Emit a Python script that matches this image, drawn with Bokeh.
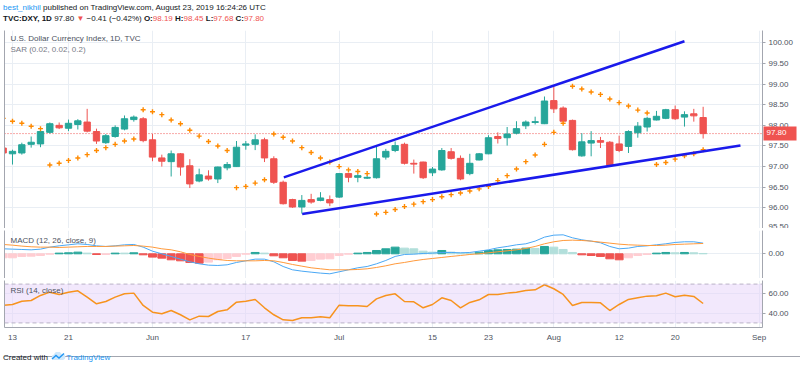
import numpy as np
from bokeh.plotting import figure
from bokeh.layouts import column
from bokeh.models import (Range1d, FixedTicker, NumeralTickFormatter, Span, BoxAnnotation,
                          Label, Div, ColumnDataSource, GlobalInlineStyleSheet, LinearAxis)
from bokeh.embed import file_html
from bokeh.resources import INLINE

FONT = "Liberation Sans"

# ---------------- data ----------------
bar_x = list(range(-1, 75))   # trading-day index, 0 = May 13 2019
opens = [97.45, 97.31, 97.33, 97.54, 97.55, 97.83, 98.00, 97.93, 98.02, 98.08,
         97.85, 97.58, 97.73, 97.91, 98.14, 98.16, 97.65, 97.21, 97.12, 97.31,
         97.02, 96.65, 96.77, 96.70, 96.97, 97.00, 97.52, 97.54, 97.65, 97.19,
         96.62, 96.20, 96.02, 96.20, 96.18, 96.20, 96.26, 96.83, 96.74, 96.72,
         96.73, 97.23, 97.39, 97.54, 97.08, 97.11, 96.85, 96.92, 97.36, 97.20,
         96.83, 97.16, 97.31, 97.73, 97.70, 97.81, 97.99, 98.07, 98.04, 98.60,
         98.42, 98.12, 97.26, 97.57, 97.63, 97.59, 97.55, 97.49, 97.82, 97.96,
         98.13, 98.17, 98.38, 98.20, 98.28, 98.19]
highs = [97.50, 97.41, 97.58, 97.73, 97.92, 98.07, 98.07, 98.14, 98.15, 98.40,
         97.92, 97.79, 98.00, 98.24, 98.24, 98.20, 97.79, 97.29, 97.39, 97.33,
         97.18, 96.95, 96.91, 97.00, 97.11, 97.62, 97.62, 97.78, 97.70, 97.25,
         96.66, 96.22, 96.31, 96.34, 96.38, 96.30, 96.84, 96.84, 96.82, 96.78,
         97.49, 97.43, 97.61, 97.58, 97.17, 97.12, 96.99, 97.45, 97.45, 97.27,
         97.31, 97.33, 97.76, 97.83, 97.96, 98.10, 98.12, 98.21, 98.70, 98.94,
         98.46, 98.14, 97.81, 97.86, 97.72, 97.62, 97.75, 97.88, 98.08, 98.21,
         98.35, 98.40, 98.48, 98.34, 98.40, 98.45]
lows = [97.28, 97.05, 97.29, 97.46, 97.47, 97.80, 97.91, 97.86, 97.90, 97.83,
        97.55, 97.55, 97.70, 97.88, 98.09, 97.59, 97.13, 97.00, 96.76, 96.78,
        96.48, 96.62, 96.66, 96.60, 96.91, 96.99, 97.41, 97.40, 97.11, 96.58,
        96.08, 96.00, 95.86, 96.10, 96.16, 96.04, 96.24, 96.62, 96.62, 96.70,
        96.71, 97.17, 97.35, 97.05, 96.83, 96.70, 96.77, 96.90, 97.17, 96.67,
        96.79, 97.15, 97.30, 97.56, 97.51, 97.78, 97.91, 98.02, 98.03, 98.30,
        98.07, 97.39, 97.24, 97.25, 97.45, 97.00, 97.35, 97.33, 97.70, 97.85,
        98.12, 98.15, 98.13, 97.97, 98.09, 97.68]
closes = [97.33, 97.37, 97.53, 97.59, 97.85, 98.04, 97.94, 98.05, 98.11, 97.86,
          97.62, 97.75, 97.95, 98.16, 98.20, 97.63, 97.23, 97.13, 97.31, 96.99,
          96.58, 96.80, 96.70, 96.99, 97.05, 97.47, 97.55, 97.65, 97.21, 96.62,
          96.10, 96.02, 96.18, 96.14, 96.24, 96.12, 96.83, 96.74, 96.78, 96.74,
          97.19, 97.37, 97.51, 97.08, 97.06, 96.73, 96.94, 97.39, 97.20, 96.70,
          97.08, 97.31, 97.70, 97.68, 97.79, 97.92, 98.08, 98.09, 98.59, 98.40,
          98.10, 97.41, 97.60, 97.63, 97.59, 97.03, 97.39, 97.85, 97.98, 98.17,
          98.22, 98.38, 98.16, 98.26, 98.23, 97.80]
sar = [98.17, 98.10, 98.05, 97.98, 97.92, 97.04, 97.08, 97.15, 97.21, 97.29,
       97.39, 97.46, 97.54, 97.62, 97.67, 98.38, 98.33, 98.26, 98.13, 98.04,
       97.88, 97.74, 97.61, 97.50, 97.39, 96.49, 96.52, 96.60, 96.68, 97.79,
       97.71, 97.62, 97.46, 97.34, 97.21, 97.11, 97.00, 96.92, 96.88, 96.83,
       95.85, 95.89, 95.96, 96.03, 96.09, 96.15, 96.20, 96.27, 96.32, 96.36,
       96.41, 96.46, 96.52, 96.66, 96.78, 96.94, 97.12, 97.28, 97.54, 97.83,
       98.05, 98.95, 98.88, 98.81, 98.75, 98.64, 98.55, 98.47, 98.37, 98.30,
       97.05, 97.10, 97.18, 97.26, 97.31, 97.41]
macd = [0.119, 0.111, 0.103, 0.095, 0.111, 0.159, 0.190, 0.214, 0.238, 0.222,
        0.190, 0.175, 0.190, 0.214, 0.222, 0.159, 0.063, 0.000, -0.063, -0.127,
        -0.190, -0.238, -0.270, -0.278, -0.262, -0.206, -0.167, -0.127, -0.127, -0.190,
        -0.302, -0.381, -0.413, -0.437, -0.460, -0.476, -0.429, -0.381, -0.333, -0.302,
        -0.238, -0.159, -0.063, -0.016, -0.008, 0.008, 0.016, 0.032, 0.032, 0.024,
        0.032, 0.063, 0.095, 0.143, 0.175, 0.214, 0.238, 0.302, 0.397, 0.444,
        0.452, 0.381, 0.333, 0.302, 0.262, 0.175, 0.119, 0.135, 0.175, 0.190,
        0.214, 0.238, 0.270, 0.286, 0.286, 0.254]
signal = [0.222, 0.206, 0.183, 0.167, 0.159, 0.159, 0.151, 0.159, 0.167, 0.175,
          0.175, 0.175, 0.183, 0.190, 0.198, 0.183, 0.159, 0.119, 0.095, 0.048,
          -0.016, -0.063, -0.103, -0.135, -0.159, -0.167, -0.167, -0.167, -0.159, -0.167,
          -0.206, -0.254, -0.294, -0.333, -0.357, -0.381, -0.381, -0.381, -0.373, -0.357,
          -0.325, -0.286, -0.238, -0.206, -0.167, -0.135, -0.111, -0.087, -0.063, -0.040,
          -0.016, 0.000, 0.024, 0.048, 0.071, 0.095, 0.127, 0.175, 0.238, 0.286,
          0.317, 0.325, 0.317, 0.302, 0.278, 0.254, 0.230, 0.214, 0.206, 0.198,
          0.198, 0.206, 0.222, 0.230, 0.238, 0.246]
hist = [-0.095, -0.095, -0.063, -0.056, -0.040, -0.008, 0.016, 0.024, 0.040, 0.016,
        -0.016, -0.016, 0.016, 0.016, 0.024, -0.024, -0.079, -0.103, -0.143, -0.167,
        -0.206, -0.222, -0.198, -0.143, -0.111, -0.063, -0.008, 0.032, 0.016, -0.048,
        -0.095, -0.159, -0.175, -0.159, -0.127, -0.119, -0.040, -0.008, 0.016, 0.032,
        0.079, 0.119, 0.159, 0.135, 0.119, 0.063, 0.040, 0.079, 0.040, 0.016,
        0.016, 0.040, 0.079, 0.095, 0.103, 0.111, 0.135, 0.127, 0.175, 0.159,
        0.103, 0.032, -0.024, -0.040, -0.063, -0.119, -0.143, -0.095, -0.040, -0.016,
        0.016, 0.032, 0.024, 0.032, 0.024, 0.008]
rsi = [48.0, 49.0, 52.4, 53.1, 58.3, 61.7, 59.3, 61.7, 63.1, 56.6,
       49.7, 52.1, 56.6, 60.0, 60.7, 48.0, 41.1, 39.4, 42.8, 38.4,
       33.2, 37.0, 36.6, 41.8, 43.5, 51.4, 52.4, 54.2, 45.6, 38.4,
       33.2, 32.5, 35.3, 35.3, 36.3, 35.3, 48.3, 47.6, 47.6, 46.9,
       54.8, 58.3, 60.0, 52.1, 51.8, 45.6, 49.0, 55.9, 53.1, 45.6,
       51.1, 53.8, 59.3, 59.3, 60.7, 61.7, 63.4, 64.1, 69.3, 65.2,
       59.3, 48.0, 51.1, 51.1, 50.7, 42.8, 49.0, 54.2, 55.9, 57.6,
       57.9, 60.7, 56.9, 58.6, 57.3, 50.0]

tick_pos = [0, 6, 15, 25, 35, 45, 51, 58, 65, 71, 80]
tick_labels = ["13", "21", "Jun", "17", "Jul", "15", "23", "Aug", "12", "20", "Sep"]
price_ticks = [95.5, 96.0, 96.5, 97.0, 97.5, 98.0, 98.5, 99.0, 99.5, 100.0]
upper_x, upper_y = [29.07, 72.0], [96.74, 100.04]
lower_x, lower_y = [31.04, 78.0], [95.85, 97.51]
last_price = 97.80

# ---------------- styles ----------------
GREEN, RED = "#26a69a", "#ef5350"
GRID, OUT, TXT = "#e9eef4", "#a3a6af", "#4c525e"
xr = Range1d(-0.857, 80.36)


def pane(height, y0, y1, yticks, bottom=0, xaxis=False):
    p = figure(frame_width=758, height=height, x_range=xr, y_range=Range1d(y0, y1),
               output_backend="svg", toolbar_location=None, y_axis_location="right",
               x_axis_location="below" if xaxis else None,
               min_border_left=4, min_border_right=38, min_border_top=0,
               min_border_bottom=bottom)
    p.outline_line_color = None
    p.grid.grid_line_color = GRID
    p.xgrid.ticker = FixedTicker(ticks=tick_pos)
    ax = p.right[0]
    ax.ticker = FixedTicker(ticks=yticks)
    ax.axis_line_color = OUT
    ax.major_tick_line_color = OUT
    ax.major_tick_out = 3
    ax.major_tick_in = 0
    ax.minor_tick_line_color = None
    ax.major_label_standoff = 3
    ax.major_label_text_font = FONT
    ax.major_label_text_font_size = "8px"
    ax.major_label_text_color = TXT
    ax.formatter = NumeralTickFormatter(format="0.00")
    p.ygrid.ticker = FixedTicker(ticks=yticks)
    # left border of the chart box: a bare axis line (no ticks, no labels)
    lb = LinearAxis(ticker=FixedTicker(ticks=[]), axis_line_color=OUT,
                    major_tick_line_color=None, minor_tick_line_color=None,
                    major_label_standoff=0)
    p.add_layout(lb, "left")
    return p


def title(p, text, ytop, color=TXT):
    p.add_layout(Label(x=6, y=p.height - p.min_border_bottom - ytop, x_units="screen",
                       y_units="screen", text=text, text_font=FONT, text_font_size="8px",
                       text_color=color, text_baseline="middle"))


def sep(h):
    return Div(width=800, height=h, margin=0, text=(
        f'<div style="margin-left:4px;width:796px;height:{h}px;background:{OUT}"></div>'))


# ---------------- main pane ----------------
src = ColumnDataSource(dict(
    x=bar_x, o=opens, h=highs, l=lows, c=closes,
    top=[max(a, b) for a, b in zip(opens, closes)],
    bot=[min(a, b) for a, b in zip(opens, closes)],
    col=[GREEN if c >= o else RED for o, c in zip(opens, closes)]))

p = pane(198, 95.499, 100.30, price_ticks)
p.add_layout(Span(location=last_price, dimension="width", line_color=RED,
                  line_dash="1 2", line_width=1, level="underlay"))
p.segment(x0="x", y0="l", x1="x", y1="h", color="col", line_width=1, source=src)
p.vbar(x="x", width=0.68, top="top", bottom="bot", fill_color="col", line_color="col",
       source=src)
p.scatter(bar_x, sar, marker="cross", size=5, line_width=1.4, color="#ff8a00")
p.line(upper_x, upper_y, line_color="#1a1aeb", line_width=2.5)
p.line(lower_x, lower_y, line_color="#1a1aeb", line_width=2.5)
title(p, "U.S. Dollar Currency Index, 1D, TVC", 7.5)
title(p, "SAR (0.02, 0.02, 0.2)", 19, "#787b86")
# last-price tag on the price scale (side panel, so it is not clipped to the frame)
p.add_layout(Label(x=763, y=last_price, x_units="canvas", y_units="data",
                   text=f"{last_price:.2f}", text_font=FONT, text_font_size="8px",
                   text_color="white", text_baseline="middle",
                   background_fill_color=RED, padding=(3, 10, 3, 6)), "right")

# ---------------- MACD pane ----------------
hcol = []
for i, v in enumerate(hist):
    prev = hist[i - 1] if i > 0 else v
    if v >= 0:
        hcol.append(GREEN if v > prev else "#b2dfdb")
    else:
        hcol.append(RED if v < prev else "#ffcdd2")

pm = pane(48, -0.588, 0.555, [0])
pm.vbar(x=bar_x, width=0.85, top=hist, bottom=0, fill_color=hcol, line_color=hcol)
pm.line(bar_x, macd, line_color="#4aa8f5", line_width=1)
pm.line(bar_x, signal, line_color="#ff9a3c", line_width=1)
title(pm, "MACD (12, 26, close, 9)", 10)

# ---------------- RSI pane ----------------
pr = pane(65, 25.3, 73.7, [40, 60], bottom=18, xaxis=True)
pr.add_layout(BoxAnnotation(bottom=30, top=70, fill_color="#e6d2fa", fill_alpha=0.5,
                            line_color=None, level="underlay"))
for lvl in (30, 70):
    pr.add_layout(Span(location=lvl, dimension="width", line_color="#b9b3c6",
                       line_dash="4 3", line_width=1))
pr.line(bar_x, rsi, line_color="#f7931e", line_width=1.5)
title(pr, "RSI (14, close)", 9.5)
xa = pr.below[0]
xa.ticker = FixedTicker(ticks=tick_pos)
xa.major_label_overrides = {t: s for t, s in zip(tick_pos, tick_labels)}
xa.axis_line_color = OUT
xa.major_tick_out = 0
xa.major_tick_in = 0
xa.minor_tick_line_color = None
xa.major_label_standoff = 5
xa.major_label_text_font = FONT
xa.major_label_text_font_size = "8px"
xa.major_label_text_color = TXT

# ---------------- header / footer ----------------
R = "color:#ef5350"
header = Div(width=800, height=29, margin=0, text=(
    f'<div style="font-family:{FONT};font-size:8px;line-height:11px;color:#131722;'
    'padding:2px 0 0 3px;white-space:nowrap">'
    '<span style="color:#2196f3">best_nikhil</span> published on TradingView.com, '
    'August 23, 2019 16:24:26 UTC<br>'
    f'<b>TVC:DXY, 1D</b> 97.80 <span style="{R}">&#9660;</span> &minus;0.41 (&minus;0.42%) '
    f'<b>O:</b><span style="{R}">98.19</span> <b>H:</b><span style="{R}">98.45</span> '
    f'<b>L:</b><span style="{R}">97.68</span> <b>C:</b><span style="{R}">97.80</span>'
    '</div>'))
logo = ('<svg width="16" height="9" viewBox="0 0 16 9" style="vertical-align:-1px">'
        '<path d="M3 8 a3 3 0 0 1 1-5.5 a4 4 0 0 1 7.5-.5 a3 3 0 0 1 1.5 6 z" '
        'fill="#cfe8fb"/><path d="M2 7 L6 3.5 L9 6 L14 1.5" stroke="#2196f3" '
        'stroke-width="1.4" fill="none"/></svg>')
footer = Div(width=800, height=22, margin=0, text=(
    f'<div style="font-family:{FONT};font-size:8px;line-height:11px;color:#131722;'
    'padding:6px 0 0 3px;white-space:nowrap">'
    f'Created with {logo}<span style="color:#2196f3">TradingView</span></div>'))

layout = column(header, sep(1), p, sep(2), pm, sep(2), pr, sep(1), footer, spacing=0,
                stylesheets=[GlobalInlineStyleSheet(
                    css="html,body{margin:0!important;padding:0;overflow:hidden}")])

open("out.html", "w").write(file_html(layout, INLINE))
